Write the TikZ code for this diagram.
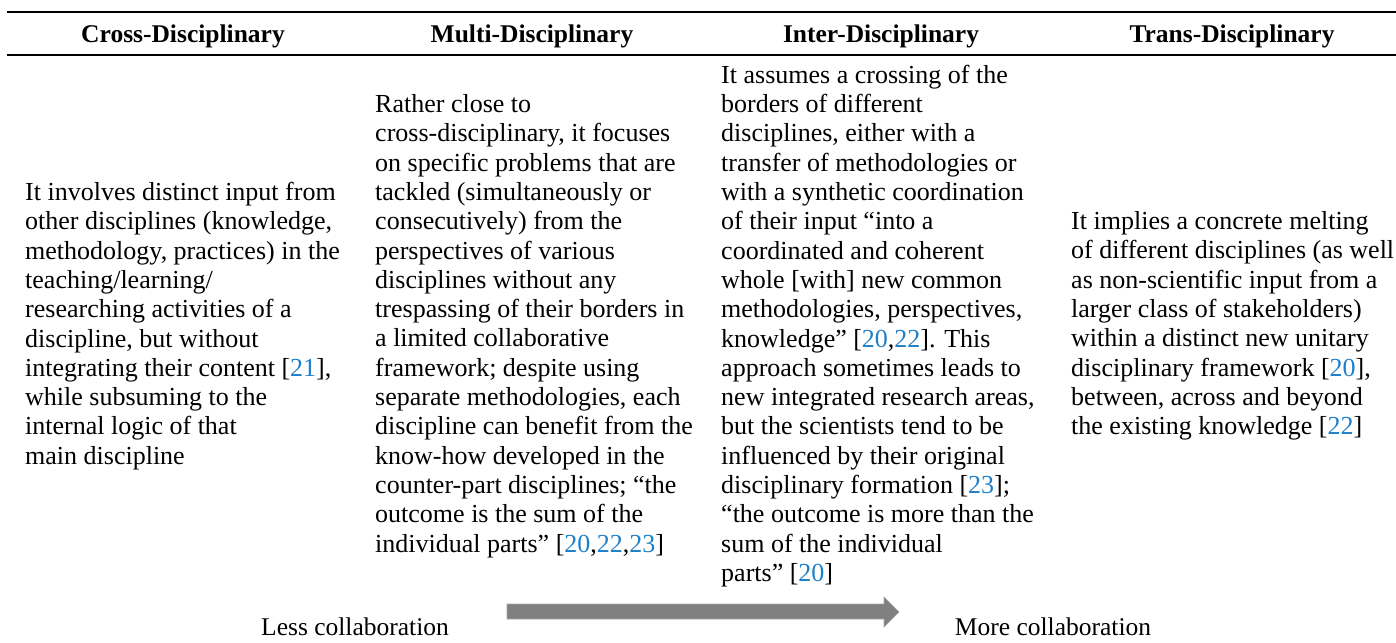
\documentclass[tikz,border=0pt]{standalone}
\usepackage{fontspec}
\setmainfont{Liberation Serif}
\usepackage{xcolor}
\definecolor{citeblue}{RGB}{30,128,200}
\definecolor{arrowgray}{RGB}{128,128,128}
\newcommand{\cit}[1]{{\color{citeblue}#1}}
\begin{document}
\begin{tikzpicture}[x=1pt,y=-1pt,
  body/.style={anchor=west,align=left,inner sep=0pt,font=\fontsize{26}{29.3}\selectfont},
  head/.style={anchor=base,inner sep=0pt,font=\fontsize{25.5}{28}\selectfont\bfseries},
  foot/.style={anchor=base,inner sep=0pt,font=\fontsize{25.5}{28}\selectfont},
  rulethick/.style={line width=2pt},
  rulethin/.style={line width=1.1pt}]
\useasboundingbox (0,0) rectangle (1396,642);
\draw[rulethick] (7,12) -- (1396,12);
\draw[rulethin] (7,55) -- (1396,55);
\node[head] (h1) at (183,43) {Cross-Disciplinary};
\node[head] (h2) at (532,43) {Multi-Disciplinary};
\node[head] (h3) at (881,43) {Inter-Disciplinary};
\node[head] (h4) at (1232,43) {Trans-Disciplinary};
\node[body] (c1) at (25,326) {It involves distinct input from\\
other disciplines (knowledge,\\
methodology, practices) in the\\
teaching/learning/\\
researching activities of a\\
discipline, but without\\
integrating their content [\cit{21}],\\
while subsuming to the\\
internal logic of that\\
main discipline};
\node[body] (c2) at (375,326) {Rather close to\\
cross-disciplinary, it focuses\\
on specific problems that are\\
tackled (simultaneously or\\
consecutively) from the\\
perspectives of various\\
disciplines without any\\
trespassing of their borders in\\
a limited collaborative\\
framework; despite using\\
separate methodologies, each\\
discipline can benefit from the\\
know-how developed in the\\
counter-part disciplines; ``the\\
outcome is the sum of the\\
individual parts'' [\cit{20},\cit{22},\cit{23}]};
\node[body] (c3) at (721,326) {It assumes a crossing of the\\
borders of different\\
disciplines, either with a\\
transfer of methodologies or\\
with a synthetic coordination\\
of their input ``into a\\
coordinated and coherent\\
whole [with] new common\\
methodologies, perspectives,\\
knowledge'' [\cit{20},\cit{22}]. This\\
approach sometimes leads to\\
new integrated research areas,\\
but the scientists tend to be\\
influenced by their original\\
disciplinary formation [\cit{23}];\\
``the outcome is more than the\\
sum of the individual\\
parts'' [\cit{20}]};
\node[body] (c4) at (1071,326) {It implies a concrete melting\\
of different disciplines (as well\\
as non-scientific input from a\\
larger class of stakeholders)\\
within a distinct new unitary\\
disciplinary framework [\cit{20}],\\
between, across and beyond\\
the existing knowledge [\cit{22}]};
\node[foot] (less) at (355,635) {Less collaboration};
\node[foot] (more) at (1053,635) {More collaboration};
\fill[arrowgray,draw=arrowgray!70!white,line width=0.6pt] (507,604) -- (884,604) -- (884,597) -- (899,612) -- (884,627) -- (884,619) -- (507,619) -- cycle;
\end{tikzpicture}
\end{document}
